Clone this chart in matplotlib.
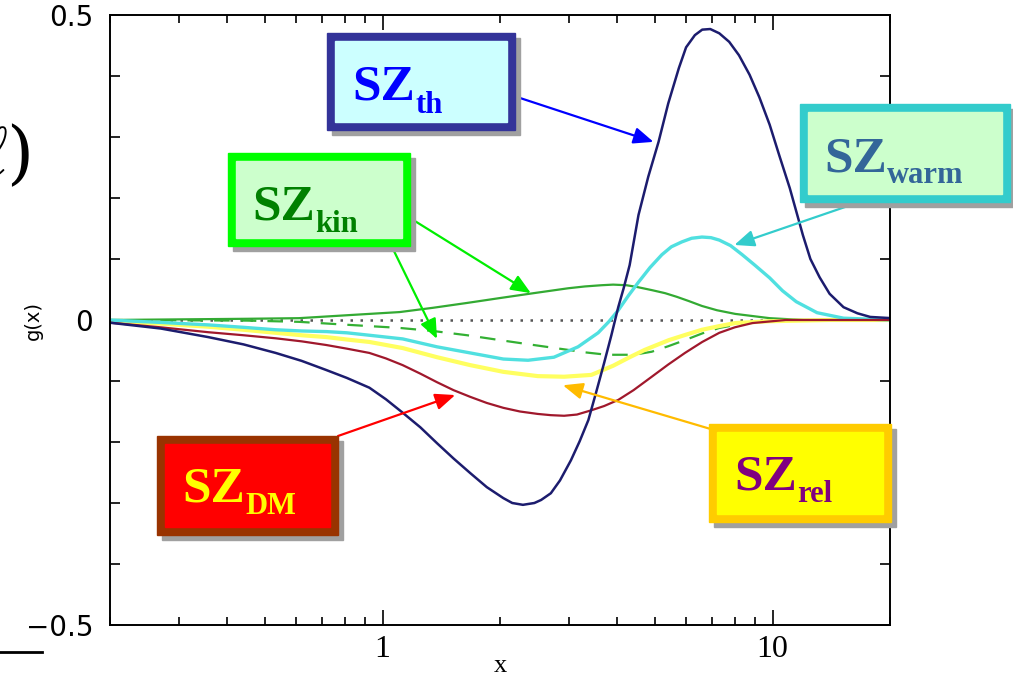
import matplotlib
matplotlib.use("Agg")
import matplotlib.pyplot as plt
from matplotlib.patches import Rectangle
from matplotlib.lines import Line2D
from matplotlib.ticker import FixedLocator, NullFormatter

# curves (x, g(x))
x_th = [0.197, 0.27, 0.357, 0.44, 0.532, 0.62, 0.717, 0.81, 0.925, 1.02, 1.126, 1.25, 1.379, 1.52,
        1.678, 1.85, 2.04, 2.15, 2.29, 2.45, 2.55, 2.70, 2.85, 3.04, 3.2, 3.37, 3.53, 3.70, 3.86, 4.02,
        4.15, 4.3, 4.53, 4.8, 5.10, 5.4, 5.75, 6.0, 6.32, 6.6, 6.92, 7.3, 7.74, 8.2, 8.73, 9.25, 9.83,
        10.4, 11.07, 11.96, 12.5, 13.2, 14.0, 15.2, 16.5, 17.8, 20.2]
y_th = [-0.004, -0.014, -0.028, -0.040, -0.054, -0.067, -0.082, -0.095, -0.111, -0.130, -0.152, -0.176,
        -0.202, -0.227, -0.251, -0.274, -0.292, -0.300, -0.303, -0.300, -0.295, -0.284, -0.263, -0.230,
        -0.199, -0.164, -0.118, -0.070, -0.025, 0.021, 0.052, 0.090, 0.172, 0.235, 0.292, 0.355, 0.413,
        0.447, 0.467, 0.476, 0.477, 0.470, 0.456, 0.434, 0.402, 0.365, 0.320, 0.270, 0.216, 0.139, 0.100,
        0.070, 0.043, 0.021, 0.011, 0.005, 0.003]

x_dm = [0.197, 0.27, 0.357, 0.44, 0.532, 0.62, 0.717, 0.81, 0.925, 1.02, 1.126, 1.25, 1.379, 1.52,
        1.678, 1.85, 2.04, 2.25, 2.50, 2.7, 2.92, 3.15, 3.43, 3.7, 4.02, 4.4, 4.90, 5.4, 5.96, 6.6,
        7.30, 8.0, 8.88, 10.8, 14.0, 20.2]
y_dm = [-0.004, -0.012, -0.020, -0.025, -0.030, -0.035, -0.041, -0.047, -0.054, -0.063, -0.074, -0.088,
        -0.102, -0.115, -0.126, -0.136, -0.144, -0.150, -0.154, -0.156, -0.157, -0.155, -0.148, -0.141,
        -0.131, -0.115, -0.093, -0.073, -0.054, -0.036, -0.021, -0.012, -0.005, 0.0, 0.0, 0.0]

x_rel = [0.197, 0.27, 0.357, 0.44, 0.532, 0.62, 0.717, 0.81, 0.925, 1.126, 1.379, 1.678, 2.04, 2.50,
         2.92, 3.43, 3.90, 4.3, 4.70, 5.42, 6.0, 6.59, 7.3, 8.02, 9.83, 14.0, 20.2]
y_rel = [-0.002, -0.006, -0.011, -0.016, -0.021, -0.025, -0.028, -0.032, -0.036, -0.046, -0.061, -0.074,
         -0.085, -0.092, -0.093, -0.090, -0.075, -0.061, -0.049, -0.033, -0.024, -0.016, -0.010, -0.005,
         -0.002, 0.0, 0.0]

x_warm = [0.197, 0.27, 0.357, 0.44, 0.532, 0.62, 0.717, 0.81, 0.925, 1.126, 1.379, 1.678, 2.04, 2.36,
          2.75, 3.17, 3.57, 3.8, 4.02, 4.27, 4.53, 4.85, 5.20, 5.5, 5.85, 6.2, 6.59, 6.95, 7.30, 7.8,
          8.36, 9.0, 9.83, 10.6, 11.5, 13.0, 15.2, 20.2]
y_warm = [0.0, -0.004, -0.008, -0.012, -0.016, -0.018, -0.019, -0.021, -0.025, -0.031, -0.044, -0.054,
          -0.064, -0.066, -0.061, -0.044, -0.021, -0.003, 0.016, 0.040, 0.062, 0.086, 0.107, 0.120, 0.128,
          0.134, 0.136, 0.135, 0.131, 0.122, 0.107, 0.090, 0.069, 0.048, 0.030, 0.012, 0.003, 0.0]

x_kin = [0.197, 0.45, 0.61, 0.82, 1.106, 1.346, 1.648, 2.0, 2.44, 2.99, 3.3, 3.64, 3.9, 4.22, 4.5, 4.90,
         5.3, 5.68, 6.1, 6.59, 7.2, 8.02, 9.83, 12.0, 20.2]
y_kin = [0.0, 0.002, 0.003, 0.008, 0.013, 0.020, 0.028, 0.036, 0.044, 0.052, 0.055, 0.057, 0.058, 0.057,
         0.054, 0.049, 0.044, 0.038, 0.031, 0.023, 0.016, 0.010, 0.003, 0.0, 0.0]

x_kin2 = [0.197, 0.45, 0.61, 0.82, 1.106, 1.346, 1.648, 2.0, 2.44, 2.99, 3.3, 3.64, 3.9, 4.27, 4.6,
          4.90, 5.4, 5.96, 6.6, 7.30, 8.88, 10.8, 20.2]
y_kin2 = [0.0, -0.001, -0.003, -0.008, -0.013, -0.018, -0.025, -0.033, -0.041, -0.049, -0.053, -0.056,
          -0.057, -0.057, -0.055, -0.052, -0.043, -0.033, -0.022, -0.013, -0.003, 0.0, 0.0]

yticks = [-0.5, 0, 0.5]
ytick_labels = ["\u22120.5", "0", "0.5"]
xticks = [1, 10]
xtick_labels = ["1", "10"]

# label boxes: text, subscript, box (px), text start x, baselines, colours
labels = [
    ("SZ", "th", (327, 33, 515, 130), 352, 100, 113, "#333399", "#ccffff", "#0000ff"),
    ("SZ", "kin", (228, 153, 410, 246), 252, 220, 232, "#00ff00", "#ccffcc", "#008000"),
    ("SZ", "warm", (800, 104, 1010, 202), 824, 171, 183, "#33cccc", "#ccffcc", "#336699"),
    ("SZ", "DM", (157, 436, 338, 535), 182, 502, 514, "#993300", "#ff0000", "#ffff00"),
    ("SZ", "rel", (709, 424, 891, 522), 734, 490, 502, "#ffcc00", "#ffff00", "#800080"),
]
# arrows: tail (fig px), tip (data)
arrows = [
    ((517, 97), (4.95, 0.292), "#0000ff"),
    ((848, 206), (7.98, 0.123), "#33cccc"),
    ((410, 218), (2.40, 0.044), "#00ee00"),
    ((392, 247), (1.379, -0.031), "#00ee00"),
    ((338, 436), (1.535, -0.123), "#ff0000"),
    ((714, 430), (2.90, -0.107), "#ffbb00"),
]

W, H = 1013, 680
fig = plt.figure(figsize=(W / 100, H / 100), dpi=100)
ax = fig.add_axes([110 / W, 1 - 625 / H, 780 / W, 610 / H])


def fx(px):
    return px / W


def fy(py):
    return 1 - py / H


ax.axhline(0, color="#555555", lw=1.8, ls=(0, (1, 3)))
ax.plot(x_kin2, y_kin2, color="#33b033", lw=1.6, ls=(0, (7, 5)))
ax.plot(x_kin, y_kin, color="#33aa33", lw=1.6)
ax.plot(x_rel, y_rel, color="#ffff60", lw=3)
ax.plot(x_warm, y_warm, color="#50e0e0", lw=2.4)
ax.plot(x_dm, y_dm, color="#a0182c", lw=1.6)
ax.plot(x_th, y_th, color="#1c1c6e", lw=1.8)

ax.set_xscale("log")
ax.set_xlim(0.2, 20)
ax.set_ylim(-0.5, 0.5)
ax.xaxis.set_major_locator(FixedLocator(xticks))
ax.set_xticklabels(xtick_labels)
ax.xaxis.set_minor_locator(FixedLocator([0.2, 0.3, 0.4, 0.5, 0.6, 0.7, 0.8, 0.9,
                                          2, 3, 4, 5, 6, 7, 8, 9, 20]))
ax.xaxis.set_minor_formatter(NullFormatter())
ax.set_yticks(yticks, labels=ytick_labels)
ax.set_yticks([-0.4, -0.3, -0.2, -0.1, 0.1, 0.2, 0.3, 0.4], minor=True)
ax.tick_params(which="both", direction="in", top=True, right=True, width=1.2)
ax.tick_params(axis="x", which="major", length=11, pad=7, labelsize=23,
               labelfontfamily="Liberation Serif")
ax.tick_params(axis="x", which="minor", length=6)
ax.tick_params(axis="y", which="both", length=7, pad=12, labelsize=20,
               labelfontfamily="DejaVu Sans")
for s in ax.spines.values():
    s.set_linewidth(1.4)
ax.set_xlabel("x", family="Liberation Serif", fontsize=19, va="baseline")
ax.xaxis.set_label_coords(0.5, -47 / 610)
ax.set_ylabel("g(x)", family="DejaVu Sans", fontsize=14, va="center")
ax.yaxis.set_label_coords(-77 / 780, 0.5)

for (tx, ty), (dx, dy), c in arrows:
    ax.annotate("", xy=(dx, dy), xycoords="data", xytext=(fx(tx), fy(ty)),
                textcoords="figure fraction", annotation_clip=False,
                arrowprops=dict(arrowstyle="-|>,head_length=0.6,head_width=0.25", color=c,
                                lw=1.6, shrinkA=0, shrinkB=0, mutation_scale=20))

for main, sub, (x0, y0, x1, y1), sx, b1, b2, edge, face, tc in labels:
    bw = 8
    fig.patches.append(Rectangle((fx(x0 + 5), fy(y1 + 5)), (x1 - x0) / W, (y1 - y0) / H,
                                 transform=fig.transFigure, color="#a0a0a0", zorder=3))
    fig.patches.append(Rectangle((fx(x0), fy(y1)), (x1 - x0) / W, (y1 - y0) / H,
                                 transform=fig.transFigure, color=edge, zorder=4))
    fig.patches.append(Rectangle((fx(x0 + bw), fy(y1 - bw)), (x1 - x0 - 2 * bw) / W,
                                 (y1 - y0 - 2 * bw) / H, transform=fig.transFigure,
                                 color=face, zorder=5))
    fig.text(fx(sx), fy(b1), main, family="Liberation Serif", weight="bold", fontsize=37,
             color=tc, va="baseline", ha="left", zorder=6)
    fig.text(fx(sx + 63), fy(b2), sub, family="Liberation Serif", weight="bold", fontsize=22,
             color=tc, va="baseline", ha="left", zorder=6)

# bits of the slide behind the plot
fig.text(-0.022, fy(176), r"$\ell$)", math_fontfamily="cm", family="DejaVu Serif",
         fontsize=50, va="baseline")
fig.lines.append(Line2D([0, fx(42)], [fy(652), fy(652)], transform=fig.transFigure,
                        color="black", lw=2))

fig.savefig("out.png", dpi=100)
